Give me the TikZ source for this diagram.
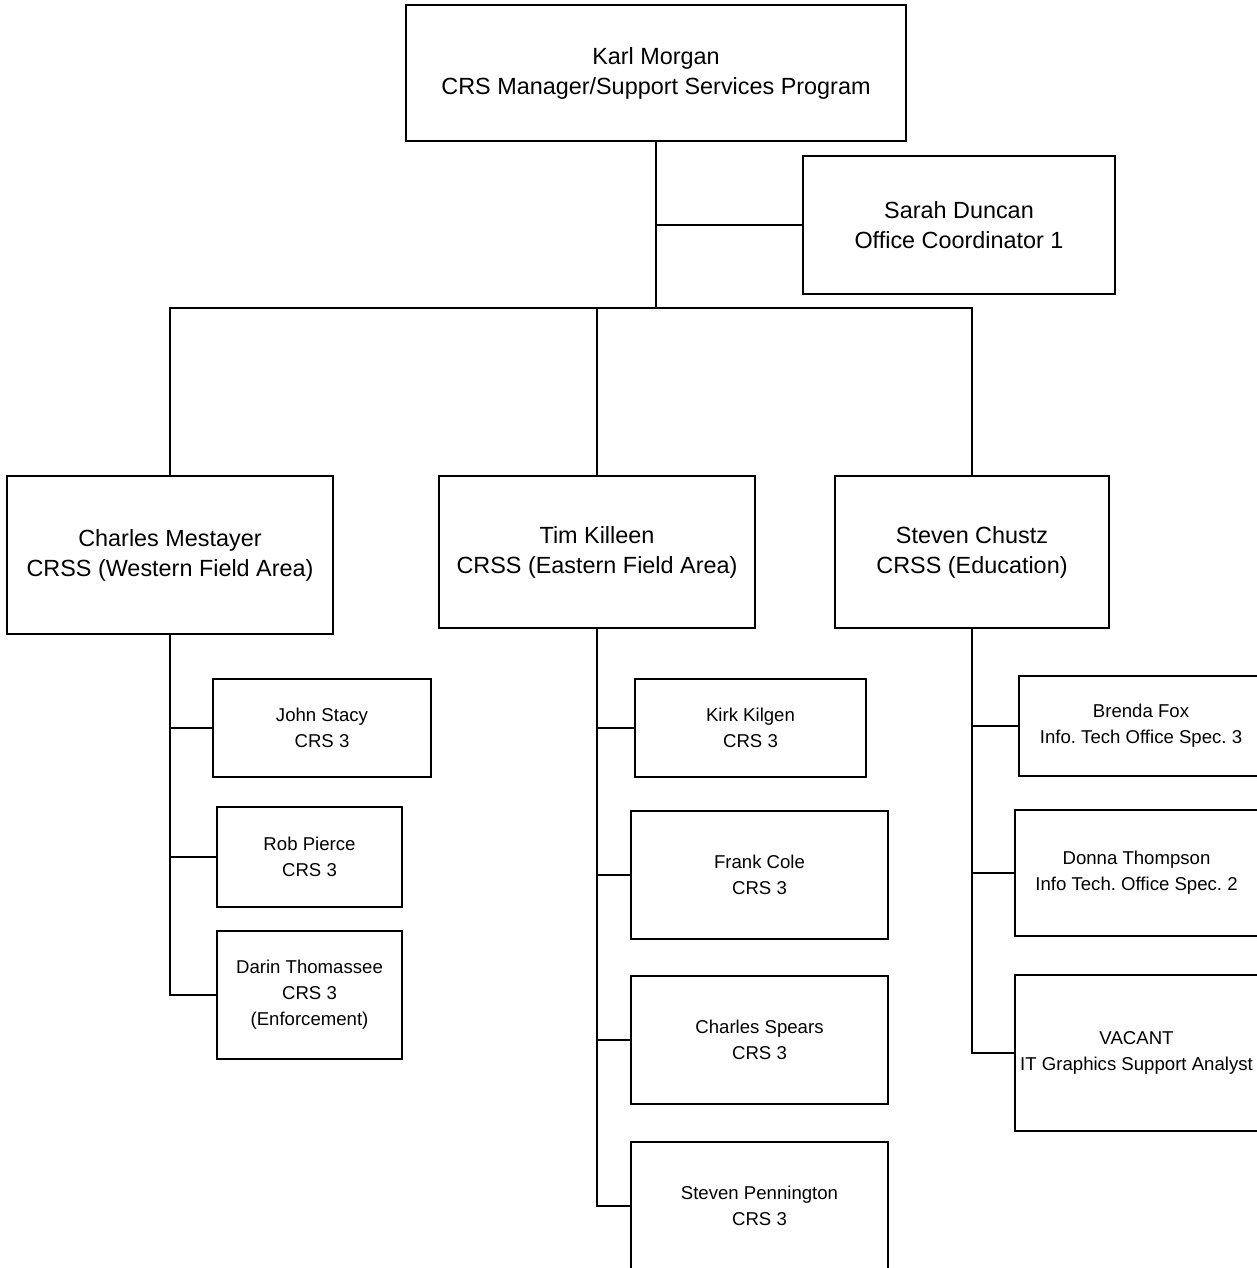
\documentclass[tikz,border=0pt]{standalone}
\usepackage{fontspec}
\setmainfont{Liberation Sans}
\frenchspacing
\begin{document}
\begin{tikzpicture}[x=1pt,y=-1pt,
  box/.style={draw=black,line width=1.8pt,rectangle,inner sep=0pt,align=center,fill=white},
  bigbox/.style={box,font=\fontsize{23.4}{30}\selectfont},
  smallbox/.style={box,font=\fontsize{18.6}{26}\selectfont},
  link/.style={draw=black,line width=1.8pt}]
\useasboundingbox (0,0) rectangle (1257,1268);
\begin{scope}
\clip (0,0) rectangle (1257,1268);

% management level
\node[bigbox,minimum width=500,minimum height=136] (karl) at (656,73)
  {Karl Morgan\\CRS Manager/Support Services Program};
\node[bigbox,minimum width=312,minimum height=138] (sarah) at (959,225)
  {Sarah Duncan\\Office Coordinator 1};

% supervisors
\node[bigbox,minimum width=326,minimum height=158] (charles) at (170,555)
  {Charles Mestayer\\CRSS (Western Field Area)};
\node[bigbox,minimum width=316,minimum height=152] (tim) at (597,552)
  {Tim Killeen\\CRSS (Eastern Field Area)};
\node[bigbox,minimum width=274,minimum height=152] (chustz) at (972,552)
  {Steven Chustz\\CRSS (Education)};

% western field area staff
\node[smallbox,minimum width=218,minimum height=98] (john) at (322,728)
  {John Stacy\\CRS 3};
\node[smallbox,minimum width=185,minimum height=100] (rob) at (309.5,857)
  {Rob Pierce\\CRS 3};
\node[smallbox,minimum width=185,minimum height=128] (darin) at (309.5,995)
  {Darin Thomassee\\CRS 3\\(Enforcement)};

% eastern field area staff
\node[smallbox,minimum width=231,minimum height=98] (kirk) at (750.5,728)
  {Kirk Kilgen\\CRS 3};
\node[smallbox,minimum width=257,minimum height=128] (frank) at (759.5,875)
  {Frank Cole\\CRS 3};
\node[smallbox,minimum width=257,minimum height=128] (spears) at (759.5,1040)
  {Charles Spears\\CRS 3};
\node[smallbox,minimum width=257,minimum height=128] (penn) at (759.5,1206)
  {Steven Pennington\\CRS 3};

% education staff
\node[smallbox,minimum width=244,minimum height=100] (brenda) at (1141,726)
  {Brenda Fox\\Info. Tech Office Spec. 3};
\node[smallbox,minimum width=243,minimum height=126] (donna) at (1136.5,873)
  {Donna Thompson\\Info Tech. Office Spec. 2};
\node[smallbox,minimum width=243,minimum height=156] (vacant) at (1136.5,1053)
  {VACANT\\IT Graphics Support Analyst};

% connectors
\coordinate (busline) at (0,308);
\coordinate (bus) at (karl.south |- busline);
\draw[link] (karl.south) -- (bus);
\draw[link] (sarah.west) -- (sarah.west -| bus);
\draw[link] (charles.north) |- (bus) -| (chustz.north);
\draw[link] (tim.north) -- (tim.north |- bus);

\draw[link] (charles.south) |- (darin.west);
\draw[link] (john.west) -- (john.west -| charles.south);
\draw[link] (rob.west) -- (rob.west -| charles.south);

\draw[link] (tim.south) |- (penn.west);
\draw[link] (kirk.west) -- (kirk.west -| tim.south);
\draw[link] (frank.west) -- (frank.west -| tim.south);
\draw[link] (spears.west) -- (spears.west -| tim.south);

\draw[link] (chustz.south) |- (vacant.west);
\draw[link] (brenda.west) -- (brenda.west -| chustz.south);
\draw[link] (donna.west) -- (donna.west -| chustz.south);
\end{scope}
\end{tikzpicture}
\end{document}
